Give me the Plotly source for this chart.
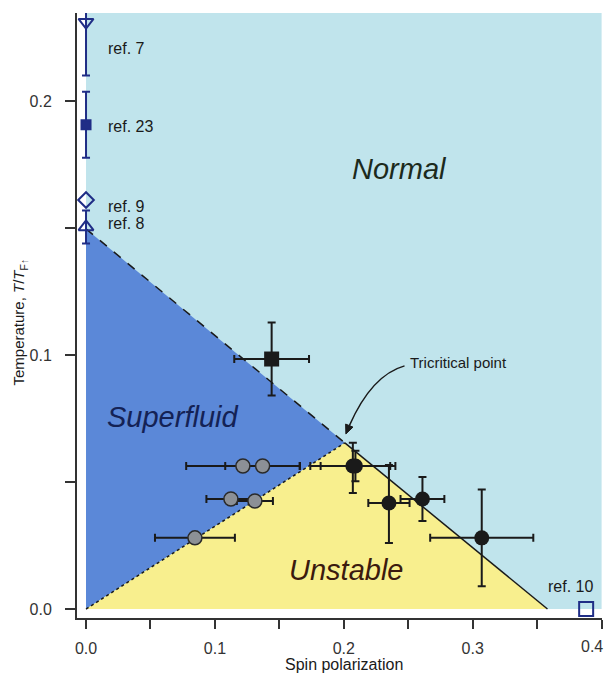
import plotly.graph_objects as go

# ---------------- data ----------------
# phase boundary
sf_t_at_zero = 0.1496          # superfluid boundary at zero polarization
tc_x, tc_t = 0.2008, 0.0654    # tricritical point
unstable_end_x = 0.358         # first-order line hits T=0
x_max, t_max = 0.4, 0.2346

# reference points (x = spin polarization, t = T/T_F)
ref_labels = ["ref. 7", "ref. 23", "ref. 9", "ref. 8", "ref. 10"]
ref_x = [0.0, 0.0, 0.0, 0.0, 0.388]
ref_t = [0.231, 0.1906, 0.161, 0.1504, 0.0]
ref_t_err = [0.021, 0.013, 0.0, 0.0065, 0.0]
ref_label_x = [0.0155, 0.0155, 0.0155, 0.0155, 0.376]
ref_label_t = [0.2205, 0.1898, 0.1583, 0.1516, 0.0087]

# black circles
bc_x = [0.207, 0.209, 0.235, 0.261, 0.307]
bc_t = [0.0563, 0.0563, 0.0417, 0.0433, 0.028]
bc_x_err = [0.033, 0.027, 0.016, 0.017, 0.040]
bc_t_err_plus = [0.0091, 0.006, 0.015, 0.0087, 0.019]
bc_t_err_minus = [0.0106, 0.006, 0.0157, 0.0087, 0.019]

# black square
bs_x = [0.144]
bs_t = [0.0984]
bs_x_err = [0.029]
bs_t_err = [0.0144]

# grey circles
gc_x = [0.1217, 0.137, 0.1124, 0.131, 0.0845]
gc_t = [0.0563, 0.0563, 0.0433, 0.0425, 0.028]
gc_x_err = [0.044, 0.029, 0.019, 0.014, 0.031]

# region labels
region_labels = ["Normal", "Superfluid", "Unstable"]
region_x = [0.2434, 0.0674, 0.2016]
region_t = [0.1732, 0.0756, 0.0154]

tri_label = "Tricritical point"
tri_label_x, tri_label_t = 0.2496, 0.0972

x_ticks = [0, 0.1, 0.2, 0.3]
x_ticktext = ["0.0", "0.1", "0.2", "0.3"]
x_last_tick, x_last_ticktext = 0.4, "0.4"
x_minor_ticks = [0.05, 0.15, 0.25, 0.35, 0.4]
y_ticks = [0, 0.1, 0.2]
y_ticktext = ["0.0", "0.1", "0.2"]
y_minor_ticks = [0.05, 0.15]

# ---------------- styles ----------------
FONT = "Liberation Sans, Arial, Helvetica, sans-serif"
C_NORMAL = "#c0e4ec"
C_SF = "#5b88d8"
C_UN = "#f8ef8e"
NAVY = "#1f2d86"
DARK = "#1a1a1a"
AX = "#333333"

fig = go.Figure()

shapes = [
    dict(type="rect", x0=0, x1=x_max, y0=0, y1=t_max, fillcolor=C_NORMAL,
         line=dict(width=0), layer="below"),
    dict(type="path", path=f"M 0 0 L 0 {sf_t_at_zero} L {tc_x} {tc_t} Z",
         fillcolor=C_SF, line=dict(width=0), layer="below"),
    dict(type="path", path=f"M 0 0 L {tc_x} {tc_t} L {unstable_end_x} 0 Z",
         fillcolor=C_UN, line=dict(width=0), layer="below"),
    dict(type="line", x0=0, y0=sf_t_at_zero, x1=tc_x, y1=tc_t,
         line=dict(color=DARK, width=1.5, dash="dash"), layer="below"),
    dict(type="line", x0=0, y0=0, x1=tc_x, y1=tc_t,
         line=dict(color=DARK, width=1.5, dash="dot"), layer="below"),
    dict(type="line", x0=tc_x, y0=tc_t, x1=unstable_end_x, y1=0,
         line=dict(color=DARK, width=1.5), layer="below"),
    # curved arrow to the tricritical point
    dict(type="path",
         path=f"M {tri_label_x - 0.0025} {tri_label_t - 0.0015} Q 0.2217 0.0921 0.2043 0.0722",
         line=dict(color=DARK, width=1.5), layer="above"),
    dict(type="path",
         path="M 0.2016 0.0689 L 0.2071 0.0716 L 0.2014 0.0728 Z",
         fillcolor=DARK, line=dict(color=DARK, width=1), layer="above"),
]

# grey circles
fig.add_trace(go.Scatter(
    x=gc_x, y=gc_t, mode="markers",
    error_x=dict(type="data", array=gc_x_err, color=DARK, thickness=2, width=4),
    marker=dict(size=14, color="#8c9096", line=dict(color="#2a2a2a", width=1.5)),
    showlegend=False))

# black square
fig.add_trace(go.Scatter(
    x=bs_x, y=bs_t, mode="markers",
    error_x=dict(type="data", array=bs_x_err, color=DARK, thickness=2, width=4),
    error_y=dict(type="data", array=bs_t_err, color=DARK, thickness=2, width=4),
    marker=dict(size=15, color=DARK, symbol="square"),
    showlegend=False))

# black circles
fig.add_trace(go.Scatter(
    x=bc_x, y=bc_t, mode="markers",
    error_x=dict(type="data", array=bc_x_err, color=DARK, thickness=2, width=4),
    error_y=dict(type="data", array=bc_t_err_plus, arrayminus=bc_t_err_minus,
                 color=DARK, thickness=2, width=4),
    marker=dict(size=15, color=DARK),
    showlegend=False))

# reference markers
ref_symbols = ["triangle-down-open", "square", "diamond-open", "triangle-up-open", "square-open"]
ref_sizes = [13, 9, 12, 13, 14]
for i in range(len(ref_labels)):
    ey = None
    if ref_t_err[i] > 0:
        ey = dict(type="data", array=[ref_t_err[i]], color=NAVY, thickness=2, width=4)
    fig.add_trace(go.Scatter(
        x=[ref_x[i]], y=[ref_t[i]], mode="markers", error_y=ey,
        marker=dict(size=ref_sizes[i], symbol=ref_symbols[i], color=NAVY,
                    line=dict(color=NAVY, width=2)),
        showlegend=False))

annotations = []
for i, lab in enumerate(ref_labels):
    annotations.append(dict(x=ref_label_x[i], y=ref_label_t[i], text=lab,
                            xanchor="left" if i < 4 else "center", yanchor="middle",
                            showarrow=False, font=dict(family=FONT, size=16, color=DARK)))

region_colors = ["#1c2a1c", "#142255", "#3b1a0e"]
for i, lab in enumerate(region_labels):
    annotations.append(dict(x=region_x[i], y=region_t[i], text=f"<i>{lab}</i>",
                            xanchor="center", yanchor="middle", showarrow=False,
                            font=dict(family=FONT, size=29, color=region_colors[i])))

annotations.append(dict(x=tri_label_x, y=tri_label_t, text=tri_label, xanchor="left",
                        yanchor="middle", showarrow=False,
                        font=dict(family=FONT, size=15, color=DARK)))

# last x tick label (sits at the page edge)
annotations.append(dict(x=x_last_tick, xref="x", yref="paper", y=-0.0479,
                        text=x_last_ticktext, showarrow=False, xanchor="right",
                        xshift=3, yanchor="middle",
                        font=dict(family=FONT, size=16, color=AX)))

# axis titles
annotations.append(dict(xref="paper", yref="paper", x=0.5086, y=-0.077,
                        text="Spin polarization", showarrow=False,
                        xanchor="center", yanchor="middle",
                        font=dict(family=FONT, size=16, color=DARK)))
annotations.append(dict(xref="paper", yref="paper", x=-0.1086, y=0.49,
                        text="Temperature, <i>T</i>/<i>T</i><sub>F↑</sub>",
                        showarrow=False, textangle=-90,
                        xanchor="center", yanchor="middle",
                        font=dict(family=FONT, size=15, color=DARK)))

# The page body has an 8px default margin, so the figure is placed to compensate.
fig.update_layout(
    width=612, height=666, autosize=False,
    margin=dict(l=69, r=18, t=5, b=56),
    plot_bgcolor="white", paper_bgcolor="white",
    shapes=shapes, annotations=annotations,
    xaxis=dict(range=[-0.007, 0.4003], tickvals=x_ticks, ticktext=x_ticktext,
               showgrid=False, zeroline=False, showline=True, linecolor=AX,
               linewidth=2, ticks="outside", ticklen=9, tickwidth=2, tickcolor=AX,
               ticklabelstandoff=6,
               minor=dict(tickvals=x_minor_ticks, ticks="outside", ticklen=9,
                          tickwidth=2, tickcolor=AX, showgrid=False),
               tickfont=dict(family=FONT, size=16, color=AX)),
    yaxis=dict(range=[-0.00354, t_max], tickvals=y_ticks, ticktext=y_ticktext,
               showgrid=False, zeroline=False, showline=True, linecolor=AX,
               linewidth=2, ticks="outside", ticklen=10, tickwidth=2, tickcolor=AX,
               ticklabelstandoff=10,
               minor=dict(tickvals=y_minor_ticks, ticks="outside", ticklen=10,
                          tickwidth=2, tickcolor=AX, showgrid=False),
               tickfont=dict(family=FONT, size=16, color=AX)),
)

fig.write_html("out.html")
